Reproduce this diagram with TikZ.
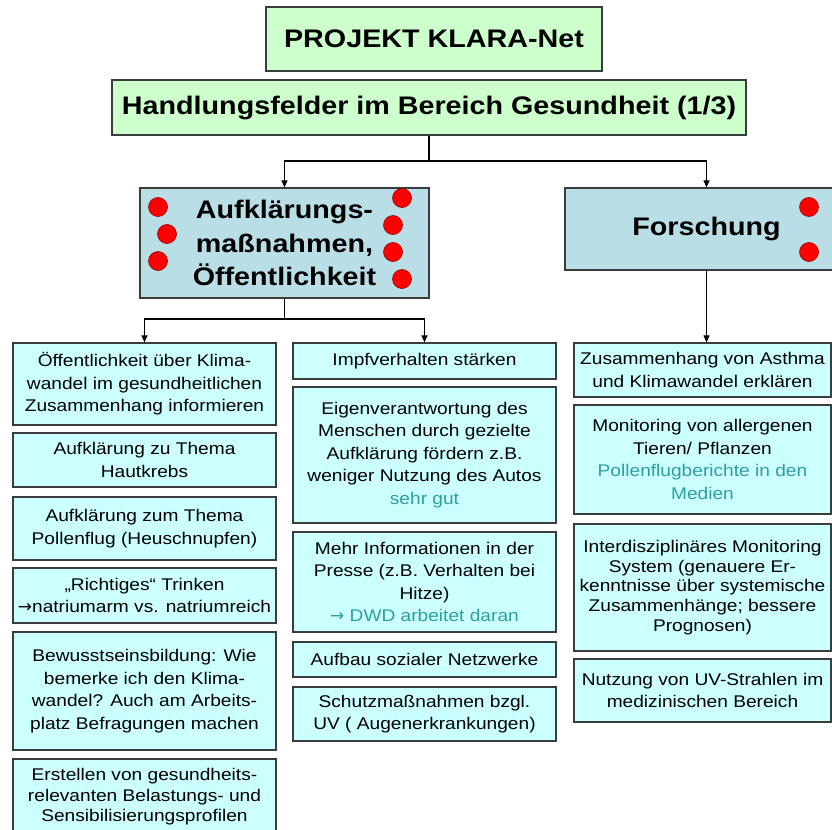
\documentclass[tikz,border=0pt]{standalone}
\usepackage{fontspec}
\setmainfont{Liberation Sans}[FakeStretch=1.13]
\newfontfamily\arrowfont{DejaVu Sans}
\usetikzlibrary{arrows.meta}
\definecolor{boxline}{RGB}{60,60,60}
\definecolor{titlefill}{RGB}{204,255,204}
\definecolor{headfill}{RGB}{185,222,229}
\definecolor{itemfill}{RGB}{204,255,255}
\definecolor{noteteal}{RGB}{45,160,160}
\definecolor{dotred}{RGB}{255,0,0}
\newcommand{\toarrow}{{\arrowfont →}}
\tikzset{
  titlebox/.style={draw=boxline, line width=1.2bp, fill=titlefill, inner sep=0pt, font=\bfseries\fontsize{25.5}{30}\selectfont},
  headbox/.style={draw=boxline, line width=1.2bp, fill=headfill, inner sep=0pt, align=center, font=\bfseries\fontsize{25.5}{34}\selectfont},
  item/.style={draw=boxline, line width=1.2bp, fill=itemfill, inner sep=0pt, align=center, font=\fontsize{17}{22.5}\selectfont},
  lcol/.style={item, minimum width=263bp},
  rcol/.style={item, minimum width=257bp},
  reddot/.style={circle, fill=dotred, draw=red!60!black, line width=0.6bp, minimum size=19bp, inner sep=0pt},
  arr/.style={-{Triangle[length=7bp,width=6bp]}, line width=1.1bp},
}
\begin{document}
\begin{tikzpicture}[x=1bp, y=-1bp]
\useasboundingbox (0,0) rectangle (832,830);
% titles
\node[titlebox, minimum width=336bp, minimum height=64bp] (proj) at (434,39) {PROJEKT KLARA-Net};
\node[titlebox, minimum width=634bp, minimum height=55bp] (feld) at (429,107.5) {Handlungsfelder im Bereich Gesundheit (1/3)};
% fields
\node[headbox, minimum width=289bp, minimum height=110bp] (aufk) at (284.5,243) {Aufklärungs-\\maßnahmen,\\Öffentlichkeit};
\node[headbox, minimum width=283bp, minimum height=82bp] (forsch) at (706.5,229) {Forschung};
\node[reddot] (da1) at (158,207) {};
\node[reddot] (da2) at (167,234) {};
\node[reddot] (da3) at (158,261) {};
\node[reddot] (da4) at (402,198) {};
\node[reddot] (da5) at (393,225) {};
\node[reddot] (da6) at (393,252) {};
\node[reddot] (da7) at (402,279) {};
\node[reddot] (df1) at (809,207) {};
\node[reddot] (df2) at (809,252) {};
% left column
\node[lcol, minimum height=82bp] (l1) at (144.5,384) {Öffentlichkeit über Klima-\\wandel im gesundheitlichen\\Zusammenhang informieren};
\node[lcol, minimum height=54bp] (l2) at (144.5,460) {Aufklärung zu Thema\\Hautkrebs};
\node[lcol, minimum height=63bp] (l3) at (144.5,528.5) {Aufklärung zum Thema\\Pollenflug (Heuschnupfen)};
\node[lcol, minimum height=55bp] (l4) at (144.5,595.5) {„Richtiges“ Trinken\\\toarrow natriumarm vs. natriumreich};
\node[lcol, minimum height=118bp] (l5) at (144.5,691) {Bewusstseinsbildung: Wie\\bemerke ich den Klima-\\wandel? Auch am Arbeits-\\platz Befragungen machen};
\node[lcol, minimum height=76bp, font=\fontsize{17}{20.5}\selectfont] (l6) at (144.5,797) {Erstellen von gesundheits-\\relevanten Belastungs- und\\Sensibilisierungsprofilen};
% middle column
\node[lcol, minimum height=36bp] (m1) at (424.5,361) {Impfverhalten stärken};
\node[lcol, minimum height=136bp] (m2) at (424.5,455) {Eigenverantwortung des\\Menschen durch gezielte\\Aufklärung fördern z.B.\\weniger Nutzung des Autos\\\textcolor{noteteal}{sehr gut}};
\node[lcol, minimum height=100bp] (m3) at (424.5,582) {Mehr Informationen in der\\Presse (z.B. Verhalten bei\\Hitze)\\\textcolor{noteteal}{\toarrow{} DWD arbeitet daran}};
\node[lcol, minimum height=35bp] (m4) at (424.5,659.5) {Aufbau sozialer Netzwerke};
\node[lcol, minimum height=54bp] (m5) at (424.5,714) {Schutzmaßnahmen bzgl.\\UV ( Augenerkrankungen)};
% right column
\node[rcol, minimum height=54bp] (r1) at (702.5,370) {Zusammenhang von Asthma\\und Klimawandel erklären};
\node[rcol, minimum height=109bp] (r2) at (702.5,459.5) {Monitoring von allergenen\\Tieren/ Pflanzen\\\textcolor{noteteal}{Pollenflugberichte in den}\\\textcolor{noteteal}{Medien}};
\node[rcol, minimum height=127bp, font=\fontsize{17}{19.7}\selectfont] (r3) at (702.5,587.5) {Interdisziplinäres Monitoring\\System (genauere Er-\\kenntnisse über systemische\\Zusammenhänge; bessere\\Prognosen)};
\node[rcol, minimum height=63bp] (r4) at (702.5,690.5) {Nutzung von UV-Strahlen im\\medizinischen Bereich};
% connectors
\coordinate (fsplit) at (429,161);
\coordinate (asplit) at (284.5,319);
\draw[arr] (feld.south) -- (fsplit) -| (aufk.north);
\draw[arr] (fsplit) -| (forsch.north);
\draw[arr] (aufk.south) -- (asplit) -| (l1.north);
\draw[arr] (asplit) -| (m1.north);
\draw[arr] (forsch.south) -- (forsch.south |- r1.north);
\end{tikzpicture}
\end{document}
